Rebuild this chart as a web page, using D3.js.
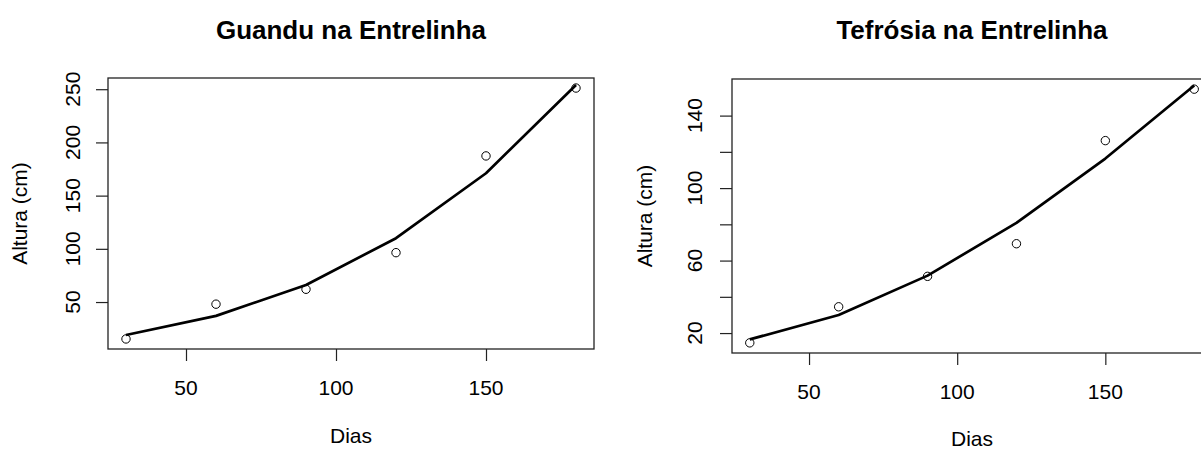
<!DOCTYPE html>
<html>

<head>
  <title>Altura x Dias</title>
  <style>
    body { margin: 0; background: #fff; }
    text { font-family: "Liberation Sans", Arial, sans-serif; fill: #000; }
  </style>
</head>

<body>

  <svg id="main" width="1201" height="450"></svg>

  <script src="https://cdn.jsdelivr.net/npm/d3@7"></script>
  <script>

    // dados
    const dias = [30, 60, 90, 120, 150, 180]
    const guanduObs = [15.3, 48, 62, 96.4, 187.3, 251.1]
    const guanduAjuste = [19, 37, 66, 110, 171, 254]
    const tefrosiaObs = [14.6, 34.5, 51.3, 69.3, 126.2, 154.6]
    const tefrosiaAjuste = [16.5, 30, 51.7, 80.8, 116.3, 156.6]

    const xTicks = [50, 100, 150]
    const guanduYTicks = [50, 100, 150, 200, 250]
    const guanduYLabels = [50, 100, 150, 200, 250]
    const tefrosiaYTicks = [20, 40, 60, 80, 100, 120, 140]
    const tefrosiaYLabels = [20, 60, 100, 140]

    const svg = d3.select('#main')

    // extensão de 4% como no R
    function padded(values) {
      const [lo, hi] = d3.extent(values)
      const p = (hi - lo) * 0.04
      return [lo - p, hi + p]
    }

    function drawPanel(opt) {
      const { box } = opt
      const x = d3.scaleLinear().domain(padded(dias)).range([box.left, box.right])
      const y = d3.scaleLinear().domain(padded(opt.obs)).range([box.bottom, box.top])

      const g = svg.append('g')

      // eixo x
      const xAxis = d3.axisBottom(x).tickValues(xTicks).tickSize(12).tickFormat('')
      g.append('g')
        .attr('transform', `translate(0,${box.bottom})`)
        .call(xAxis)
        .call(s => s.select('.domain').remove())
        .call(s => s.selectAll('line').attr('stroke', '#222').attr('stroke-width', 1.2))

      g.selectAll('.xlab')
        .data(xTicks)
        .join('text')
        .attr('x', d => x(d))
        .attr('y', opt.xLabelY)
        .attr('text-anchor', 'middle')
        .attr('font-size', '21px')
        .text(d => d)

      // eixo y
      const yAxis = d3.axisLeft(y).tickValues(opt.yTicks).tickSize(12).tickFormat('')
      g.append('g')
        .attr('transform', `translate(${box.left},0)`)
        .call(yAxis)
        .call(s => s.select('.domain').remove())
        .call(s => s.selectAll('line').attr('stroke', '#222').attr('stroke-width', 1.2))

      g.selectAll('.ylab')
        .data(opt.yLabels)
        .join('text')
        .attr('transform', d => `translate(${opt.yLabelX},${y(d)}) rotate(-90)`)
        .attr('text-anchor', 'middle')
        .attr('font-size', '21px')
        .text(d => d)

      // caixa
      g.append('rect')
        .attr('x', box.left)
        .attr('y', box.top)
        .attr('width', box.right - box.left)
        .attr('height', box.bottom - box.top)
        .attr('fill', 'none')
        .attr('stroke', '#222')
        .attr('stroke-width', 1.3)

      // curva ajustada
      const line = d3.line()
        .x((d, i) => x(dias[i]))
        .y(d => y(d))

      g.append('path')
        .datum(opt.fit)
        .attr('d', line)
        .attr('fill', 'none')
        .attr('stroke', '#000')
        .attr('stroke-width', 2.7)
        .attr('stroke-linejoin', 'round')

      // pontos observados
      g.selectAll('circle')
        .data(opt.obs)
        .join('circle')
        .attr('cx', (d, i) => x(dias[i]))
        .attr('cy', d => y(d))
        .attr('r', 4.2)
        .attr('fill', 'none')
        .attr('stroke', '#000')
        .attr('stroke-width', 1)

      // títulos
      g.append('text')
        .attr('x', (box.left + box.right) / 2)
        .attr('y', 39)
        .attr('text-anchor', 'middle')
        .attr('font-size', '26px')
        .attr('font-weight', 'bold')
        .text(opt.title)

      g.append('text')
        .attr('x', (box.left + box.right) / 2)
        .attr('y', opt.xTitleY)
        .attr('text-anchor', 'middle')
        .attr('font-size', '21px')
        .text('Dias')

      g.append('text')
        .attr('transform', `translate(${opt.yTitleX},${(box.top + box.bottom) / 2}) rotate(-90)`)
        .attr('text-anchor', 'middle')
        .attr('font-size', '21px')
        .text('Altura (cm)')
    }

    drawPanel({
      title: 'Guandu na Entrelinha',
      obs: guanduObs,
      fit: guanduAjuste,
      yTicks: guanduYTicks,
      yLabels: guanduYLabels,
      box: { left: 108, right: 594, top: 78, bottom: 349 },
      xLabelY: 395,
      xTitleY: 443,
      yLabelX: 80,
      yTitleX: 27
    })

    drawPanel({
      title: 'Tefrósia na Entrelinha',
      obs: tefrosiaObs,
      fit: tefrosiaAjuste,
      yTicks: tefrosiaYTicks,
      yLabels: tefrosiaYLabels,
      box: { left: 732, right: 1212, top: 79, bottom: 353 },
      xLabelY: 399,
      xTitleY: 446,
      yLabelX: 702,
      yTitleX: 652
    })

  </script>
</body>

</html>
